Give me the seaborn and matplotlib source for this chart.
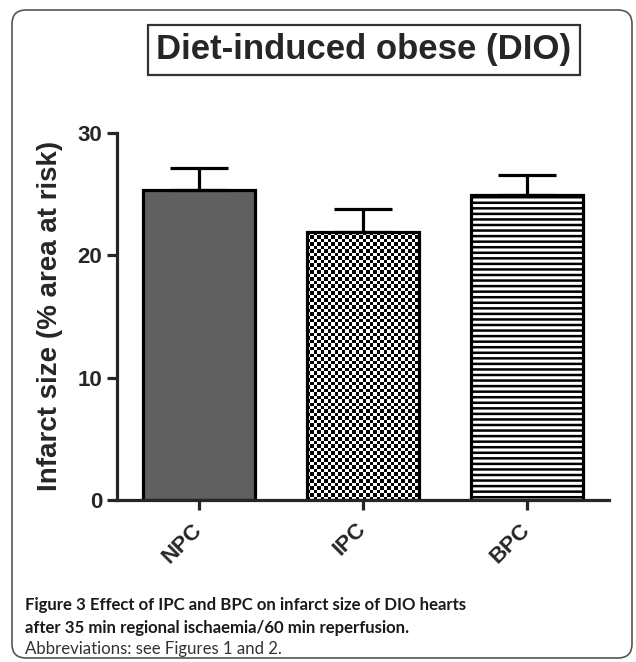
import numpy as np
import matplotlib
matplotlib.use("Agg")
import matplotlib.pyplot as plt
from matplotlib.patches import FancyBboxPatch
from matplotlib.transforms import IdentityTransform
import seaborn as sns

groups = ["NPC", "IPC", "BPC"]
means = [25.3, 21.9, 24.9]
sem = [1.8, 1.9, 1.7]
fills = ["#606060", "white", "white"]

sns.set_style("ticks")
plt.rcParams["font.family"] = ["Liberation Sans", "DejaVu Sans"]
plt.rcParams["hatch.linewidth"] = 1.8
plt.rcParams["hatch.color"] = "#222222"

fig = plt.figure(figsize=(6.36, 6.62), dpi=100)
ax = fig.add_axes([117 / 636, 1 - 500 / 662, 492 / 636, 367 / 662])

sns.barplot(x=groups, y=means, hue=groups, palette=fills, legend=False,
            width=0.68, edgecolor="black", linewidth=2.3, errorbar=None, ax=ax)
ax.errorbar(np.arange(len(groups)), means, yerr=[np.zeros(len(sem)), sem],
            fmt="none", ecolor="black", elinewidth=2.3, capsize=21, capthick=2.3, zorder=3)

ax.set_xlim(-0.5, 2.5)
ax.set_ylim(0, 30)
ax.set_yticks([0, 10, 20, 30])
sns.despine(ax=ax)
for s in ["left", "bottom"]:
    ax.spines[s].set_linewidth(2.3)
ax.tick_params(axis="both", width=2.3, length=7, labelsize=16)
ax.tick_params(axis="x", pad=12)
for lbl in ax.get_yticklabels():
    lbl.set_fontweight("bold")
for lbl in ax.get_xticklabels():
    lbl.set_fontweight("bold")
    lbl.set_rotation(45)
    lbl.set_ha("right")
    lbl.set_va("center")
    lbl.set_rotation_mode("anchor")
ax.set_xlabel("")
ax.set_ylabel("")

# hatches: checker for IPC, horizontal lines for BPC
bars = ax.patches[:3]
bars[2].set_hatch("---")
fig.canvas.draw()
p = bars[1]
bb = p.get_window_extent()
nx = max(2, int(round(bb.width / 3.5)))
ny = max(2, int(round(bb.height / 3.5)))
checker = (np.indices((ny, nx)).sum(axis=0) % 2).astype(float)
p.set_facecolor("none")
im = ax.imshow(checker, cmap="gray", interpolation="nearest", aspect="auto",
               extent=(p.get_x(), p.get_x() + p.get_width(), 0, p.get_height()),
               zorder=0.5)
im.set_clip_path(p)
ax.set_xlim(-0.5, 2.5)
ax.set_ylim(0, 30)

fig.text(50 / 636, 1 - 316 / 662, "Infarct size (% area at risk)", rotation=90,
         fontsize=20, fontweight="bold", ha="center", va="center")
fig.text(364 / 636, 1 - 50 / 662, "Diet-induced obese (DIO)", fontsize=25,
         fontweight="bold", ha="center", va="center",
         bbox=dict(boxstyle="square,pad=0.25", fc="white", ec="#333333", lw=1.6))

cap = ["Lato", "DejaVu Sans"]
fig.text(25 / 636, 1 - 605 / 662, "Figure 3 Effect of IPC and BPC on infarct size of DIO hearts",
         family=cap, fontsize=12.1, fontweight="bold", ha="left", va="center", color="#1a1a1a")
fig.text(25 / 636, 1 - 628 / 662, "after 35 min regional ischaemia/60 min reperfusion.",
         family=cap, fontsize=12.1, fontweight="bold", ha="left", va="center", color="#1a1a1a")
fig.text(25 / 636, 1 - 649 / 662, "Abbreviations: see Figures 1 and 2.",
         family=cap, fontsize=12.1, ha="left", va="center", color="#333333")

frame = FancyBboxPatch((12, 4), 620, 648, boxstyle="round,pad=0,rounding_size=14",
                       transform=IdentityTransform(), fill=False, ec="#555555", lw=1.2)
fig.add_artist(frame)

fig.savefig("out.png", dpi=100)
